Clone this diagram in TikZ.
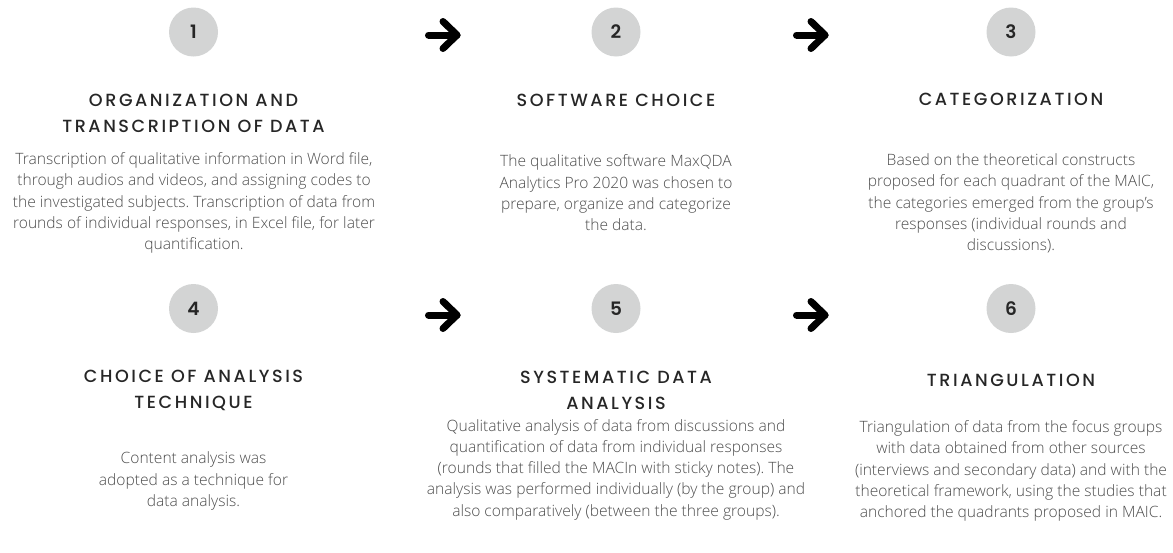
\documentclass[tikz,border=0pt]{standalone}
\usepackage{fontspec}
\IfFontExistsTF{Open Sans Light}
  {\setmainfont{Open Sans Light}}
  {\setmainfont{Open Sans}}
\IfFontExistsTF{Poppins Medium}
  {\newfontfamily\headfont[LetterSpace=14.5]{Poppins Medium}}
  {\newfontfamily\headfont[LetterSpace=14.5,FakeBold=1]{Poppins}}
\IfFontExistsTF{Poppins SemiBold}
  {\newfontfamily\numfont{Poppins SemiBold}}
  {\newfontfamily\numfont[FakeBold=1.5]{Poppins}}
\frenchspacing
\definecolor{circlegray}{HTML}{D3D4D4}
\definecolor{headink}{HTML}{262626}
\definecolor{bodyink}{HTML}{4C4C4C}
\tikzset{
  numcircle/.style={circle, fill=circlegray, minimum size=49pt, inner sep=0pt,
    font=\numfont\fontsize{18.5}{18.5}\selectfont, text=headink},
  headtext/.style={align=center, inner sep=0pt, text=headink,
    font=\headfont\fontsize{17.6}{26}\selectfont},
  bodytext/.style={align=center, inner sep=0pt, text=bodyink,
    font=\fontsize{15.6}{21.3}\selectfont\frenchspacing},
  flowarrow/.style={line width=7pt, line cap=round, line join=round, draw=black}
}
\begin{document}
\begin{tikzpicture}[x=1pt, y=-1pt]
\useasboundingbox (0,0) rectangle (1173,552);

% step markers
\node[numcircle] (c1) at (193.5,32) {1};
\node[numcircle] (c2) at (616,32) {2};
\node[numcircle] (c3) at (1011,32) {3};
\node[numcircle] (c4) at (193.5,308.5) {4};
\node[numcircle] (c5) at (616,308.5) {5};
\node[numcircle] (c6) at (1011,308.5) {6};

% arrows between the steps
\foreach \ax/\ay in {425/35, 793/35, 425/315, 793/315}{
  \draw[flowarrow] (\ax+3.5,\ay) -- (\ax+32,\ay);
  \draw[flowarrow] (\ax+18,\ay-13.5) -- (\ax+32,\ay) -- (\ax+18,\ay+13.5);
}

% headings
\node[headtext] (h1) at (193.5,113.5) {ORGANIZATION AND\\TRANSCRIPTION OF DATA};
\node[headtext] (h2) at (616,100.5) {SOFTWARE CHOICE};
\node[headtext] (h3) at (1011,99.5) {CATEGORIZATION};
\node[headtext] (h4) at (193.5,390.5) {CHOICE OF ANALYSIS\\TECHNIQUE};
\node[headtext] (h5) at (616,390.5) {SYSTEMATIC DATA\\ANALYSIS};
\node[headtext] (h6) at (1011,380.5) {TRIANGULATION};

% descriptions
\node[bodytext] (b1) at (194,203) {Transcription of qualitative information in Word file,\\
through audios and videos, and assigning codes to\\
the investigated subjects. Transcription of data from\\
rounds of individual responses, in Excel file, for later\\
quantification.};
\node[bodytext] (b2) at (616,193) {The qualitative software MaxQDA\\
Analytics Pro 2020 was chosen to\\
prepare, organize and categorize\\
the data.};
\node[bodytext] (b3) at (1011,203.5) {Based on the theoretical constructs\\
proposed for each quadrant of the MAIC,\\
the categories emerged from the group's\\
responses (individual rounds and\\
discussions).};
\node[bodytext] (b4) at (193.5,481) {Content analysis was\\
adopted as a technique for\\
data analysis.};
\node[bodytext] (b5) at (616,469.5) {Qualitative analysis of data from discussions and\\
quantification of data from individual responses\\
(rounds that filled the MACIn with sticky notes). The\\
analysis was performed individually (by the group) and\\
also comparatively (between the three groups).};
\node[bodytext] (b6) at (1011,471) {Triangulation of data from the focus groups\\
with data obtained from other sources\\
(interviews and secondary data) and with the\\
theoretical framework, using the studies that\\
anchored the quadrants proposed in MAIC.};
\end{tikzpicture}
\end{document}
